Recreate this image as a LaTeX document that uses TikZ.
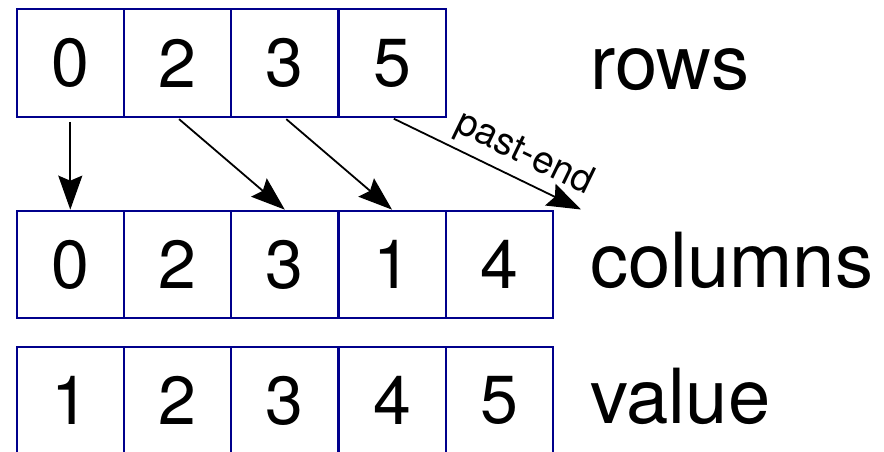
\documentclass[tikz,border=0pt]{standalone}
\usepackage{fontspec}
\setmainfont{TeX Gyre Heros}
\usetikzlibrary{arrows.meta}
\definecolor{cellblue}{RGB}{0,0,140}
\newcommand\cellfont{\fontsize{68}{80}\selectfont}
\newcommand\namefont{\fontsize{76}{90}\selectfont}
\newcommand\tagfont{\fontsize{38}{45}\selectfont}
\begin{document}
\begin{tikzpicture}[x=1pt, y=-1pt,
  cell/.style={draw=cellblue,line width=2.2pt,minimum width=107.25pt,minimum height=107.5pt,inner sep=0pt,font=\cellfont},
  arrname/.style={anchor=base west,inner sep=0pt,font=\namefont},
  ptr/.style={-{Stealth[length=34pt,width=24pt,inset=5pt]},line width=1.8pt,shorten <=2pt}]
\useasboundingbox (0,0) rectangle (884,451);
% row pointers
\node[cell] (r0) at (70.3,63) {0};
\node[cell] (r1) at (177.55,63) {2};
\node[cell] (r2) at (284.8,63) {3};
\node[cell] (r3) at (392.05,63) {5};
% column indices
\node[cell] (c0) at (70.3,264.5) {0};
\node[cell] (c1) at (177.55,264.5) {2};
\node[cell] (c2) at (284.8,264.5) {3};
\node[cell] (c3) at (392.05,264.5) {1};
\node[cell] (c4) at (499.3,264.5) {4};
% stored values
\node[cell] (v0) at (70.3,400.5) {1};
\node[cell] (v1) at (177.55,400.5) {2};
\node[cell] (v2) at (284.8,400.5) {3};
\node[cell] (v3) at (392.05,400.5) {4};
\node[cell] (v4) at (499.3,400.5) {5};
\node[arrname] (rowsname) at (590,89) {rows};
\node[arrname] (colsname) at (590,287) {columns};
\node[arrname] (valname) at (590,423) {value};
\coordinate (pastend) at (581,209.5);
\draw[ptr,shorten <=4pt] (r0) -- (c0);
\draw[ptr] (r1.south) -- (c2.north);
\draw[ptr] (r2.south) -- (c3.north);
\draw[ptr] (r3.south) -- (pastend) node[pos=0.64,sloped,above=6pt,font=\tagfont,inner sep=0pt] {past-end};
\end{tikzpicture}
\end{document}
